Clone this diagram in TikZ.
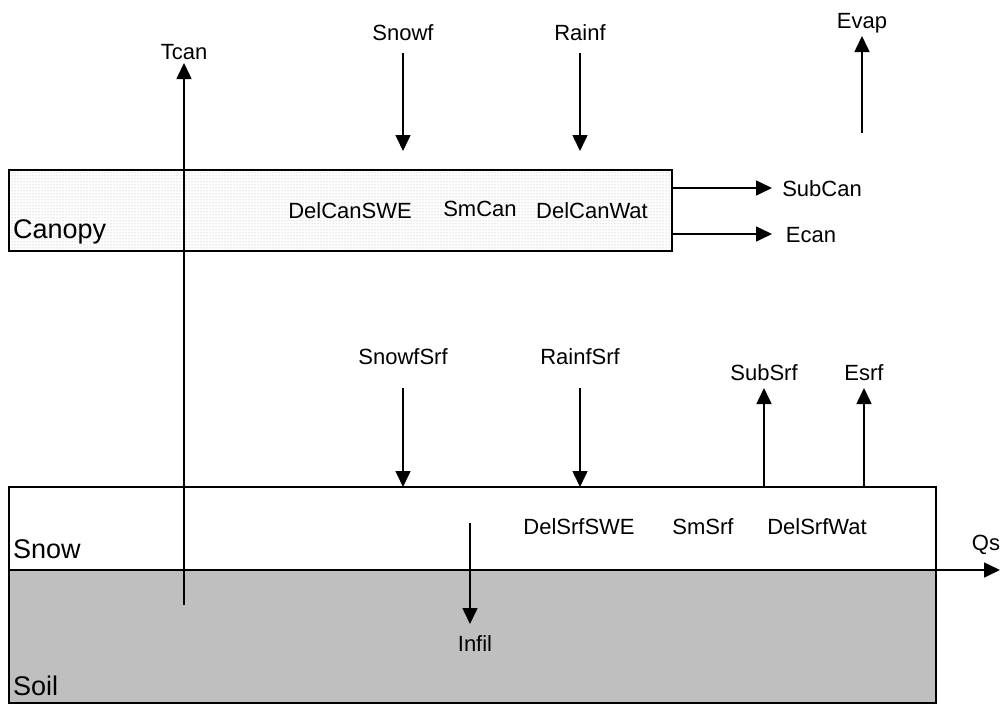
\documentclass[tikz,border=0pt]{standalone}
\usepackage{fontspec}
\setmainfont{Liberation Sans}
\usetikzlibrary{arrows.meta,patterns}
\begin{document}
\begin{tikzpicture}[x=1pt,y=-1pt,
  lbl/.style={font=\fontsize{22}{26}\selectfont, inner sep=0pt, anchor=base},
  big/.style={font=\fontsize{27}{31}\selectfont, inner sep=0pt, anchor=base west},
  arr/.style={line width=1.6pt, -{Triangle[length=16pt,width=15pt]}},
  box/.style={line width=1.6pt}]
\useasboundingbox (0,0) rectangle (1005,704);
% soil
\draw[box, fill=black!25] (9,570) rectangle (936,703);
% snow
\draw[box, fill=white] (9,487) rectangle (936,570);
% canopy
\fill[white] (9,170) rectangle (672,251);
\fill[pattern=dots, pattern color=black!35] (9,170) rectangle (672,251);
\draw[box] (9,170) rectangle (672,251);
% region labels
\node[big] (canopy) at (13,238) {Canopy};
\node[big] (snow) at (13,558) {Snow};
\node[big] (soil) at (13,695) {Soil};
% labels
\node[lbl] (tcan) at (184,59) {Tcan};
\node[lbl] (snowf) at (403,40) {Snowf};
\node[lbl] (rainf) at (580,40) {Rainf};
\node[lbl] (evap) at (862,28) {Evap};
\node[lbl] (delcanswe) at (350,218) {DelCanSWE};
\node[lbl] (smcan) at (480,216) {SmCan};
\node[lbl] (delcanwat) at (592,218) {DelCanWat};
\node[lbl] (subcan) at (822,196) {SubCan};
\node[lbl] (ecan) at (811,242) {Ecan};
\node[lbl] (snowfsrf) at (403,364) {SnowfSrf};
\node[lbl] (rainfsrf) at (580,364) {RainfSrf};
\node[lbl] (subsrf) at (764,380) {SubSrf};
\node[lbl] (esrf) at (864,380) {Esrf};
\node[lbl] (delsrfswe) at (579,534) {DelSrfSWE};
\node[lbl] (smsrf) at (703,534) {SmSrf};
\node[lbl] (delsrfwat) at (817,534) {DelSrfWat};
\node[lbl] (qs) at (986,550) {Qs};
\node[lbl] (infil) at (475,651) {Infil};
% coordinates
\coordinate (tcanA) at (184,605);
\coordinate (tcanB) at (184,63);
\coordinate (snowfA) at (403,53);
\coordinate (snowfB) at (403,151);
\coordinate (rainfA) at (580,53);
\coordinate (rainfB) at (580,151);
\coordinate (evapA) at (862,133);
\coordinate (evapB) at (862,36);
\coordinate (subcanA) at (672,188);
\coordinate (subcanB) at (772,188);
\coordinate (ecanA) at (672,234);
\coordinate (ecanB) at (772,234);
\coordinate (snowfsrfA) at (403,388);
\coordinate (snowfsrfB) at (403,487);
\coordinate (rainfsrfA) at (580,388);
\coordinate (rainfsrfB) at (580,487);
\coordinate (subsrfA) at (764,487);
\coordinate (subsrfB) at (764,388);
\coordinate (esrfA) at (864,487);
\coordinate (esrfB) at (864,388);
\coordinate (qsA) at (9,570);
\coordinate (qsB) at (1000,570);
\coordinate (infilA) at (470,523);
\coordinate (infilB) at (470,624);
% arrows
\draw[arr] (tcanA) -- (tcanB);
\draw[arr] (snowfA) -- (snowfB);
\draw[arr] (rainfA) -- (rainfB);
\draw[arr] (evapA) -- (evapB);
\draw[arr] (subcanA) -- (subcanB);
\draw[arr] (ecanA) -- (ecanB);
\draw[arr] (snowfsrfA) -- (snowfsrfB);
\draw[arr] (rainfsrfA) -- (rainfsrfB);
\draw[arr] (subsrfA) -- (subsrfB);
\draw[arr] (esrfA) -- (esrfB);
\draw[arr] (qsA) -- (qsB);
\draw[arr] (infilA) -- (infilB);
\end{tikzpicture}
\end{document}
